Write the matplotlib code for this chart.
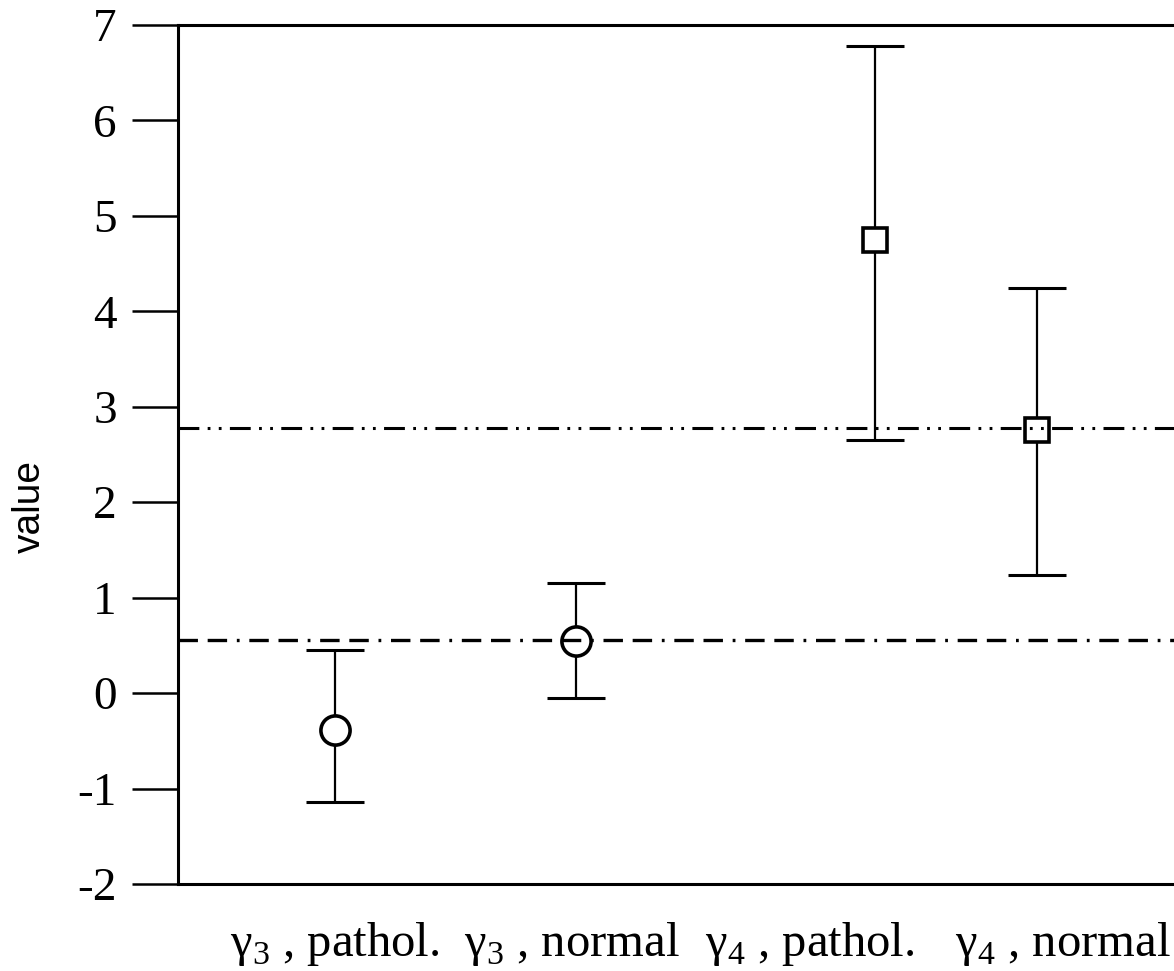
import matplotlib
matplotlib.use("Agg")
import matplotlib.pyplot as plt

# ---- data ----
categories = ["γ$_{\\mathregular{3}}$ , pathol.", "γ$_{\\mathregular{3}}$ , normal",
              "γ$_{\\mathregular{4}}$ , pathol.", "γ$_{\\mathregular{4}}$ , normal"]
x_points = [0.646, 1.639, 2.870, 3.536]      # marker positions
x_labels = [0.646, 1.622, 2.602, 3.643]      # label positions
means = [-0.39, 0.55, 4.75, 2.76]
upper = [0.45, 1.15, 6.78, 4.24]
lower = [-1.14, -0.05, 2.65, 1.24]
markers = ["o", "o", "s", "s"]
ref_lines = [0.56, 2.78]
yticks = [-2, -1, 0, 1, 2, 3, 4, 5, 6, 7]

plt.rcParams["font.family"] = ["Liberation Serif", "DejaVu Serif"]
plt.rcParams["mathtext.fontset"] = "custom"
plt.rcParams["mathtext.rm"] = "Liberation Serif"
plt.rcParams["lines.scale_dashes"] = False

fig = plt.figure(figsize=(11.74, 9.71), dpi=100)
ax = fig.add_axes([0.1516, 0.0896, 0.8484, 0.88465])

for x, m, lo, hi, mk in zip(x_points, means, lower, upper, markers):
    ax.errorbar([x], [m], yerr=[[m - lo], [hi - m]], fmt="none",
                ecolor="black", elinewidth=1.6, capsize=21, capthick=2.2, zorder=2)
    ms = 21 if mk == "o" else 17
    ax.plot([x], [m], marker=mk, ms=ms, mfc="white", mec="black", mew=2.6,
            linestyle="none", zorder=3)

# reference dash-dot lines
l1 = ax.axhline(ref_lines[0], color="black", lw=2.4, zorder=4)
l1.set_dashes([14, 7, 14, 7, 2, 7])
l2 = ax.axhline(ref_lines[1], color="black", lw=2.2, zorder=4)
l2.set_dashes([15, 6, 2, 6, 2, 6])

ax.set_xlim(0, 4.1)
ax.set_ylim(-2, 7)
ax.set_yticks(yticks)
ax.set_yticklabels([str(t) for t in yticks])
ax.set_xticks(x_labels)
ax.set_xticklabels(categories)

ax.tick_params(axis="y", direction="out", length=33, width=1.8, pad=11,
               labelsize=34)
ax.tick_params(axis="x", length=0, pad=26, labelsize=35)

for side in ["left", "bottom", "top"]:
    ax.spines[side].set_linewidth(2.2)
ax.spines["right"].set_visible(False)

ax.set_ylabel("value", family=["Liberation Sans", "DejaVu Sans"], fontsize=28)
ax.yaxis.set_label_coords(-0.131, 0.44)

fig.savefig("out.png", dpi=100)
